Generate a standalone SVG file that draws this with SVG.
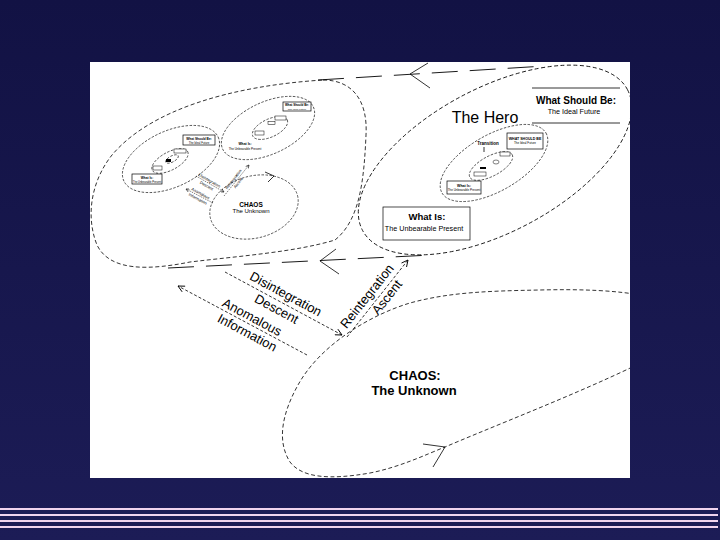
<svg xmlns="http://www.w3.org/2000/svg" width="720" height="540" viewBox="0 0 720 540">
<defs>
<linearGradient id="bg" x1="0" y1="0" x2="0" y2="1"><stop offset="0" stop-color="#121244"/><stop offset="1" stop-color="#1c1c56"/></linearGradient>
<clipPath id="panel"><rect x="90" y="62" width="540" height="416"/></clipPath>
<marker id="v" viewBox="0 0 10 10" refX="9" refY="5" markerWidth="8" markerHeight="8" orient="auto" markerUnits="userSpaceOnUse"><path d="M1,1 L9,5 L1,9" fill="none" stroke="#000" stroke-width="1.1" stroke-dasharray="none"/></marker>
<marker id="vs" viewBox="0 0 10 10" refX="9" refY="5" markerWidth="4" markerHeight="4" orient="auto" markerUnits="userSpaceOnUse"><path d="M1,1 L9,5 L1,9" fill="none" stroke="#000" stroke-width="1.5" stroke-dasharray="none"/></marker>
<style>
.dash{fill:none;stroke:#000;stroke-width:0.8;stroke-dasharray:4 2.5}
.dsm{fill:none;stroke:#000;stroke-width:0.6;stroke-dasharray:2.5 1.5}
.long{fill:none;stroke:#000;stroke-width:0.9;stroke-dasharray:26 12}
.arw{fill:none;stroke:#000;stroke-width:0.8;stroke-dasharray:3 2}
.asm{fill:none;stroke:#000;stroke-width:0.5;stroke-dasharray:1.5 1}
.solid{fill:none;stroke:#000;stroke-width:0.8}
.box{fill:#fff;stroke:#000;stroke-width:0.7}
.mb{fill:#fff;stroke:#000;stroke-width:0.5}
.t{font-family:"Liberation Sans",Arial,Helvetica,sans-serif;fill:#000}
.b{font-weight:bold}
.m{text-anchor:middle}
.stripe{fill:#f0d4ee}
</style>
</defs>
<rect width="720" height="540" fill="url(#bg)"/>
<g id="stripes">
<rect class="stripe" x="0" y="508" width="718" height="2"/>
<rect class="stripe" x="0" y="514" width="718" height="2"/>
<rect class="stripe" x="0" y="520" width="718" height="2"/>
<rect class="stripe" x="0" y="526" width="718" height="2"/>
</g>
<rect id="panel-bg" x="90" y="62" width="540" height="416" fill="#fff"/>
<g clip-path="url(#panel)">
<g id="previous-cycle">
<path class="dash" d="M323,80 C352,80 368,100 366,135 C364,180 360,220 335,240 C295,252 240,256 190,262 C150,270 110,272 97,245 C85,215 92,180 112,155 C150,110 230,86 323,80 Z"/>
<g id="prev-small-cycle-a">
<ellipse class="dsm" cx="268" cy="128" rx="50" ry="26" transform="rotate(-25 268 128)"/>
<ellipse class="dsm" cx="270" cy="128" rx="19" ry="9" transform="rotate(-25 270 128)"/>
<rect class="box" x="283" y="102" width="28" height="9"/>
<text class="t b m" x="297" y="106" font-size="3">What Should Be:</text>
<text class="t m" x="297" y="109.5" font-size="2.5">The Ideal Future</text>
<rect class="mb" x="275" y="116" width="11" height="4"/>
<rect class="mb" x="268" y="121.5" width="7" height="3"/>
<rect class="mb" x="255" y="131" width="9" height="4"/>
<text class="t b m" x="245" y="145" font-size="3.4">What Is:</text>
<text class="t m" x="245" y="149.5" font-size="3">The Unbearable Present</text>
</g>
<g id="prev-small-cycle-b">
<ellipse class="dsm" cx="171" cy="159" rx="52" ry="28" transform="rotate(-25 171 159)"/>
<ellipse class="dsm" cx="170" cy="161" rx="20" ry="9" transform="rotate(-28 170 161)"/>
<ellipse class="dsm" cx="172" cy="159" rx="7" ry="3" transform="rotate(-28 172 159)"/>
<rect class="box" x="183" y="135" width="32" height="10"/>
<text class="t b m" x="199" y="139.5" font-size="3.2">What Should Be:</text>
<text class="t m" x="199" y="143.5" font-size="2.8">The Ideal Future</text>
<rect class="box" x="132" y="174" width="30" height="10"/>
<text class="t b m" x="147" y="178.5" font-size="3.2">What Is:</text>
<text class="t m" x="147" y="182.5" font-size="2.6">The Unbearable Present</text>
<rect class="mb" x="174" y="149" width="12" height="4"/>
<rect class="mb" x="153" y="166" width="9" height="4"/>
<rect x="166" y="159" width="5" height="3" fill="#000"/>
</g>
<g id="prev-chaos">
<ellipse class="dsm" cx="254" cy="207" rx="45" ry="31" transform="rotate(-15 254 207)"/>
<path class="solid" d="M265,172 L274,176 L268,182"/>
<text class="t b m" x="251" y="206.5" font-size="6.5" fill="#333">CHAOS</text>
<text class="t m" x="251" y="212.5" font-size="6">The Unknown</text>
</g>
<g id="prev-arrows">
<path class="asm" d="M196,176 L224,192" marker-end="url(#vs)"/>
<path class="asm" d="M213,203 L186,189" marker-end="url(#vs)"/>
<path class="asm" d="M224,196 L249,165" marker-end="url(#vs)"/>
<g transform="translate(196,176) rotate(30)">
<text class="t m" x="14" y="-1.5" font-size="4">Disintegration</text>
<text class="t m" x="14" y="4.5" font-size="4">Descent</text>
</g>
<g transform="translate(186,189) rotate(28)">
<text class="t m" x="15" y="-1.5" font-size="4">Anomalous</text>
<text class="t m" x="15" y="4.5" font-size="4">Information</text>
</g>
<g transform="translate(224,196) rotate(-52)">
<text class="t m" x="19" y="-1.5" font-size="4">Reintegration</text>
<text class="t m" x="19" y="4.5" font-size="4">Ascent</text>
</g>
</g>
</g>
<g id="hero">
<ellipse class="dash" cx="495" cy="160" rx="150" ry="72" transform="rotate(-28 495 160)"/>
<text class="t m" x="485" y="123" font-size="16">The Hero</text>
<g id="hero-inner">
<ellipse class="dsm" cx="494" cy="163" rx="60" ry="28" transform="rotate(-30 494 163)"/>
<ellipse class="dsm" cx="491" cy="166" rx="24" ry="10" transform="rotate(-28 491 166)"/>
<rect class="box" x="507" y="133" width="36" height="16"/>
<text class="t b m" x="525" y="139.5" font-size="3.6">WHAT SHOULD BE</text>
<text class="t m" x="525" y="144" font-size="3">The Ideal Future</text>
<rect class="box" x="447" y="181" width="34" height="13"/>
<text class="t b m" x="464" y="186.5" font-size="3.6">What Is:</text>
<text class="t m" x="464" y="191" font-size="3">The Unbearable Present</text>
<text class="t b m" x="488" y="145" font-size="4.5">Transition</text>
<path class="solid" d="M484,147 L484,152"/>
<rect class="mb" x="500" y="152" width="10" height="4"/>
<ellipse class="mb" cx="496" cy="162" rx="3" ry="2"/>
<rect x="480" y="167" width="6" height="2" fill="#000"/>
<rect class="mb" x="474" y="172" width="12" height="4"/>
</g>
</g>
<g id="what-should-be">
<path class="solid" d="M532,88 L620,88 M532,123 L620,123"/>
<text class="t b m" x="576" y="103.5" font-size="10">What Should Be:</text>
<text class="t m" x="574" y="114" font-size="7.2">The Ideal Future</text>
</g>
<g id="what-is">
<rect class="box" x="383" y="207" width="87" height="33"/>
<text class="t b m" x="427" y="219.5" font-size="9.5">What Is:</text>
<text class="t m" x="424" y="231" font-size="7.2">The Unbearable Present</text>
</g>
<g id="chaos">
<path class="dash" d="M700,330 C690,295 620,288 540,290 C490,291 450,292 410,303 C370,315 320,345 298,385 C283,412 276,440 290,462 C302,478 330,480 370,473 C400,467 425,455 445,447 C520,415 640,370 700,330 Z"/>
<path class="solid" d="M423,444 L445,447 L433,467"/>
<text class="t b m" x="415" y="380" font-size="13">CHAOS:</text>
<text class="t b m" x="414" y="395" font-size="13">The Unknown</text>
</g>
<g id="connectors">
<path class="long" d="M318,80 L545,66"/>
<path class="solid" d="M428,63 L410,74 L430,88"/>
<path class="long" d="M168,268 L432,255"/>
<path class="solid" d="M336,249 L320,261 L339,274"/>
<path class="arw" d="M225,272 L342,335" marker-end="url(#v)"/>
<path class="arw" d="M307,355 L178,286" marker-end="url(#v)"/>
<path class="arw" d="M347,337 L408,260" marker-end="url(#v)"/>
<g transform="translate(225,272) rotate(28.3)">
<text class="t m" x="64" y="-5" font-size="13">Disintegration</text>
<text class="t m" x="63" y="12.5" font-size="13">Descent</text>
</g>
<g transform="translate(178,286) rotate(28.1)">
<text class="t m" x="80" y="-3" font-size="13">Anomalous</text>
<text class="t m" x="83" y="13" font-size="13">Information</text>
</g>
<g transform="translate(347,337) rotate(-51.6)">
<text class="t m" x="44.5" y="-5.3" font-size="13">Reintegration</text>
<text class="t m" x="56" y="11" font-size="13">Ascent</text>
</g>
</g>
</g>
</svg>
